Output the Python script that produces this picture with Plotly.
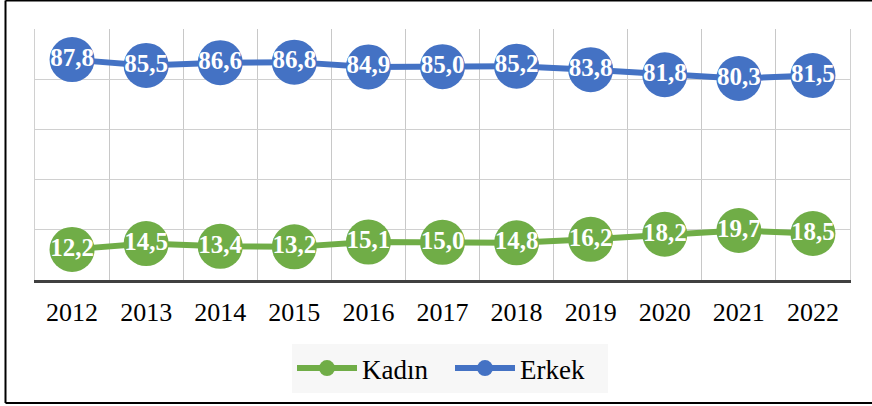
import plotly.graph_objects as go

years = ["2012", "2013", "2014", "2015", "2016", "2017", "2018", "2019", "2020", "2021", "2022"]
kadin = [12.2, 14.5, 13.4, 13.2, 15.1, 15.0, 14.8, 16.2, 18.2, 19.7, 18.5]
erkek = [87.8, 85.5, 86.6, 86.8, 84.9, 85.0, 85.2, 83.8, 81.8, 80.3, 81.5]

GREEN = "#70AD47"
BLUE = "#4472C4"
FONT = "Liberation Serif, Times New Roman, serif"

xs = list(range(len(years)))

fig = go.Figure()
for name, vals, col in [("Kadın", kadin, GREEN), ("Erkek", erkek, BLUE)]:
    fig.add_trace(go.Scatter(
        x=xs, y=vals, name=name, mode="lines+markers+text",
        line=dict(color=col, width=6),
        marker=dict(color=col, size=45, line=dict(width=0)),
        text=[f"{v:.1f}".replace(".", ",") for v in vals],
        textposition="middle center",
        textfont=dict(family=FONT, size=25, color="white", weight="bold"),
        cliponaxis=False,
    ))

W, H = 872, 406
L, R, T, B = 35, 22, 29, 126
pw, ph = W - L - R, H - T - B

def px_x(x):
    return (x - L) / pw

def px_y(y):
    return (H - B - y) / ph

fig.update_layout(
    width=W, height=H,
    margin=dict(l=L, r=R, t=T, b=B),
    paper_bgcolor="white", plot_bgcolor="white",
    separators=",.",
    showlegend=True,
    legend=dict(orientation="h", x=px_x(450), xanchor="center", y=px_y(344), yanchor="top",
                bgcolor="#f7f7f7", font=dict(family=FONT, size=27, color="black"),
                itemwidth=60, entrywidth=83, traceorder="normal"),
    xaxis=dict(range=[-0.5, len(years) - 0.5], tickmode="array", tickvals=xs, ticktext=years,
               showgrid=False, zeroline=False, ticks="",
               tickfont=dict(family=FONT, size=26, color="black"),
               ticklabelstandoff=7,
               showline=True, linecolor="#404040", linewidth=3,
               minor=dict(tickmode="linear", tick0=-0.5, dtick=1, showgrid=True,
                          gridcolor="#c8c8c8", gridwidth=1, ticks="")),
    yaxis=dict(range=[0, 100], dtick=20, showgrid=True, gridcolor="#d0d0d0", gridwidth=1,
               showticklabels=False, zeroline=False, ticks="",
               showline=True, mirror=True, linecolor="#d0d0d0", linewidth=1),
)

border = dict(color="black", width=2)
fig.add_shape(type="line", xref="paper", yref="paper", x0=px_x(5.5), x1=px_x(5.5),
              y0=px_y(403), y1=px_y(0.5), line=border, layer="above")
fig.add_shape(type="line", xref="paper", yref="paper", x0=px_x(5.5), x1=px_x(880),
              y0=px_y(0.5), y1=px_y(0.5), line=border, layer="above")
fig.add_shape(type="line", xref="paper", yref="paper", x0=px_x(5.5), x1=px_x(880),
              y0=px_y(403), y1=px_y(403), line=border, layer="above")

fig.write_html("out.html", config={"displayModeBar": False},
               post_script="document.body.style.margin='0';document.body.style.overflow='hidden';")
